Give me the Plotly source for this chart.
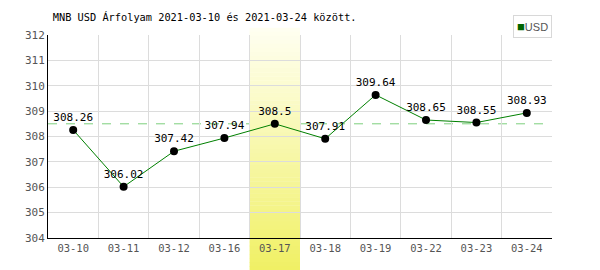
import plotly.graph_objects as go

dates = ["03-10", "03-11", "03-12", "03-16", "03-17", "03-18", "03-19", "03-22", "03-23", "03-24"]
usd = [308.26, 306.02, 307.42, 307.94, 308.5, 307.91, 309.64, 308.65, 308.55, 308.93]
ref_level = 308.5
highlight = "03-17"
y_ticks = [304, 305, 306, 307, 308, 309, 310, 311, 312]
title = "MNB USD Árfolyam 2021-03-10 és 2021-03-24 között."
series_name = "USD"

FONT = "DejaVu Sans Mono"
xs = list(range(len(dates)))

fig = go.Figure()
fig.add_trace(go.Scatter(
    x=xs, y=usd, mode="lines+markers+text",
    text=[f"{v:g}" for v in usd], textposition="top center",
    textfont=dict(family=FONT, size=11, color="black"),
    line=dict(color="#008000", width=1),
    marker=dict(color="black", size=8),
    showlegend=False, cliponaxis=False,
))

shapes = []
shapes.append(dict(type="line", xref="paper", yref="y", x0=0, x1=1, y0=ref_level, y1=ref_level,
                   line=dict(color="#7ccf7c", width=1, dash="dash"), layer="between"))
hi = dates.index(highlight)
n = 60
top_p, bot_p = 1.034, -0.16
c_top = (255, 255, 242)
c_bot = (240, 240, 100)
for i in range(n):
    t = (i + 0.5) / n
    r = round(c_top[0] + (c_bot[0] - c_top[0]) * t)
    g = round(c_top[1] + (c_bot[1] - c_top[1]) * t)
    b = round(c_top[2] + (c_bot[2] - c_top[2]) * t)
    y1 = top_p + (bot_p - top_p) * i / n
    y0 = top_p + (bot_p - top_p) * (i + 1) / n
    shapes.append(dict(type="rect", xref="x", yref="paper", x0=hi - 0.5, x1=hi + 0.5,
                       y0=y0, y1=y1 + 0.002, fillcolor=f"rgb({r},{g},{b})",
                       line=dict(width=0), layer="between"))

fig.add_annotation(
    xref="paper", yref="paper", x=1, y=1.04, xanchor="right", yanchor="middle",
    text=f"<span style='color:#006400;font-size:13px'>■</span>{series_name}", showarrow=False,
    font=dict(family="Liberation Sans", size=11, color="#555"),
    bordercolor="#d8d8d8", borderwidth=1, borderpad=3, bgcolor="white",
)

fig.update_layout(
    width=600, height=270,
    margin=dict(l=48, r=48, t=35, b=32, autoexpand=False),
    paper_bgcolor="white", plot_bgcolor="white",
    showlegend=False,
    title=dict(text=title, x=0.088, xanchor="left", y=0.935, yanchor="middle",
               font=dict(family=FONT, size=10.3, color="black")),
    shapes=shapes,
    xaxis=dict(range=[-0.5, len(dates) - 0.5], tickmode="array", tickvals=xs, ticktext=dates,
               showgrid=False, zeroline=False, showline=True, linecolor="black", linewidth=1,
               ticks="", tickfont=dict(family=FONT, size=10.5, color="#555"),
               minor=dict(tick0=0.5, dtick=1, showgrid=True, gridcolor="#dcdcdc", gridwidth=1)),
    yaxis=dict(range=[304, 312], tickmode="array", tickvals=y_ticks,
               showgrid=True, gridcolor="#dcdcdc", gridwidth=1, zeroline=False,
               showline=True, linecolor="black", linewidth=1, ticks="",
               tickfont=dict(family=FONT, size=11, color="#555")),
)
fig.write_html("out.html")
